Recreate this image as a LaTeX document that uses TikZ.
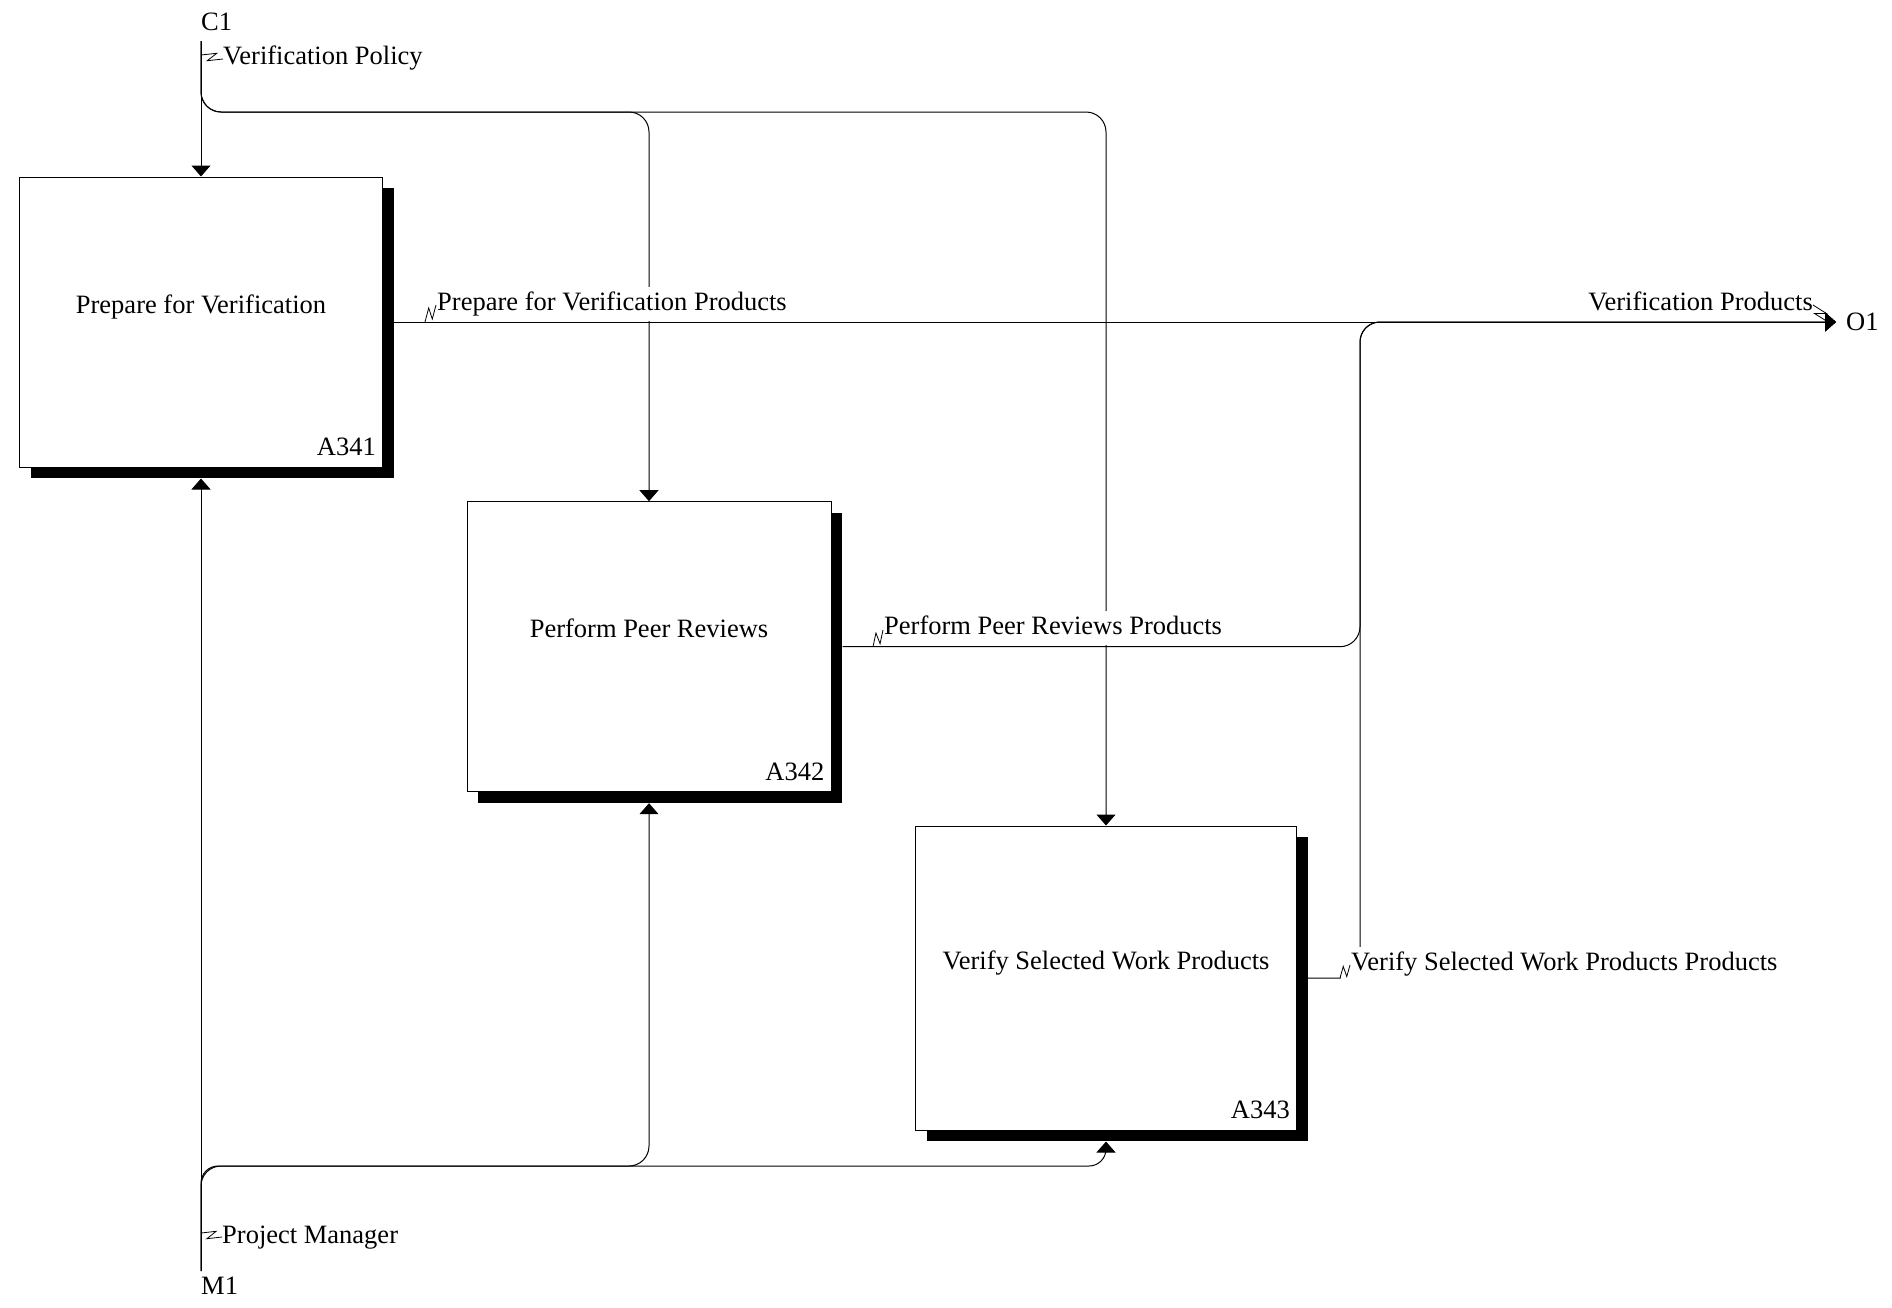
\documentclass[tikz,border=0pt]{standalone}
\usepackage{fontspec}
\setmainfont{Liberation Serif}
\usetikzlibrary{arrows.meta,calc,shadows}
\begin{document}
\begin{tikzpicture}[x=1pt,y=-1pt,
  font=\fontsize{26.5}{30}\selectfont,
  line/.style={draw=black, line width=1pt},
  flow/.style={draw=black, line width=1pt, -{Triangle[length=11pt,width=19pt]}},
  fn/.style={rectangle, draw=black, fill=white, line width=1pt, inner sep=0pt,
    text height=18pt, text depth=36pt,
    drop shadow={shadow xshift=11pt, shadow yshift=-11pt, fill=black, opacity=1}},
  num/.style={anchor=base east, inner sep=0pt},
  lab/.style={fill=white, inner xsep=10pt, inner ysep=5pt, text height=18pt, text depth=6pt},
  term/.style={anchor=base west, inner sep=0pt},
  squig/.style={line width=0.8pt, to path={-- ($(\tikztostart)!0.68!(\tikztotarget)!4.5pt!90:(\tikztotarget)$) -- ($(\tikztostart)!0.32!(\tikztotarget)!4.5pt!-90:(\tikztotarget)$) -- (\tikztotarget)}}
]
\useasboundingbox (0,0) rectangle (1892,1307);

% activity boxes
\node[fn, minimum width=363pt, minimum height=290pt] (b1) at (201,322) {Prepare for Verification};
\node[fn, minimum width=364pt, minimum height=290pt] (b2) at (649,646.7) {Perform Peer Reviews};
\node[fn, minimum width=381pt, minimum height=304pt] (b3) at (1106,978) {Verify Selected Work Products};
\node[num] (n1) at ($(b1.south east)+(-7,-12)$) {A341};
\node[num] (n2) at ($(b2.south east)+(-7,-12)$) {A342};
\node[num] (n3) at ($(b3.south east)+(-7,-12)$) {A343};

% boundary points
\coordinate (c1) at (201,41);
\coordinate (m1) at (201,1271);
\coordinate (o1) at (1836,322);
\coordinate (ctop) at (0,112);
\coordinate (cbot) at (0,1166);
\coordinate (jx) at (1360,0);

\node[term] (tc1) at (201,30) {C1};
\node[term] (tm1) at (201,1294) {M1};
\node[term] (to1) at (1846,330) {O1};

% controls
\draw[flow] (c1) -- (b1.north);
\draw[flow, rounded corners=20pt] (c1) |- (b2.north|-ctop) -- (b2.north);
\draw[flow, rounded corners=20pt] (c1) |- (b3.north|-ctop) -- (b3.north);

% mechanisms
\draw[flow] (m1) -- ($(b1.south)+(0,11)$);
\draw[flow, rounded corners=20pt] (m1) |- (b2.south|-cbot) -- ($(b2.south)+(0,11)$);
\draw[flow, rounded corners=17pt] (m1) |- (b3.south|-cbot) -- ($(b3.south)+(0,11)$);

% outputs
\draw[flow] ($(b1.east)+(11,0)$) -- (o1);
\draw[flow, rounded corners=20pt] ($(b2.east)+(11,0)$) -| (jx|-o1) -- (o1);
\draw[flow, rounded corners=20pt] ($(b3.east)+(11,0)$) -| (jx|-o1) -- (o1);

% arrow labels
\node[lab, anchor=base west] (lvp) at (213,64) {Verification Policy};
\node[lab, anchor=base west] (lpm) at (212,1243) {Project Manager};
\node[lab, anchor=base west] (lprep) at (427,310) {Prepare for Verification Products};
\node[lab, anchor=base west] (lperf) at (874,634) {Perform Peer Reviews Products};
\node[lab, anchor=base west] (lver) at (1341,970) {Verify Selected Work Products Products};
\node[lab, anchor=base east] (lvprod) at (1823,310) {Verification Products};

% squiggles
\coordinate (q1) at (201,55);
\coordinate (q1b) at ($(lvp.base west)+(10,-5)$);
\coordinate (q2) at (201,1233);
\coordinate (q2b) at ($(lpm.base west)+(10,-6)$);
\coordinate (q3) at (425,322);
\coordinate (q3b) at ($(lprep.base west)+(9,-5)$);
\coordinate (q4) at (873,646.7);
\coordinate (q4b) at ($(lperf.base west)+(9,-4)$);
\coordinate (q5) at (1340,978);
\coordinate (q5b) at ($(lver.base west)+(9,-5)$);
\coordinate (q6) at ($(lvprod.base east)+(-10,-5)$);
\coordinate (q6b) at (1828,322);

\draw[line, squig] (q1) to (q1b);
\draw[line, squig] (q2) to (q2b);
\draw[line, squig] (q3) to (q3b);
\draw[line, squig] (q4) to (q4b);
\draw[line, squig] (q5) to (q5b);
\draw[line, squig] (q6) to (q6b);
\end{tikzpicture}
\end{document}
